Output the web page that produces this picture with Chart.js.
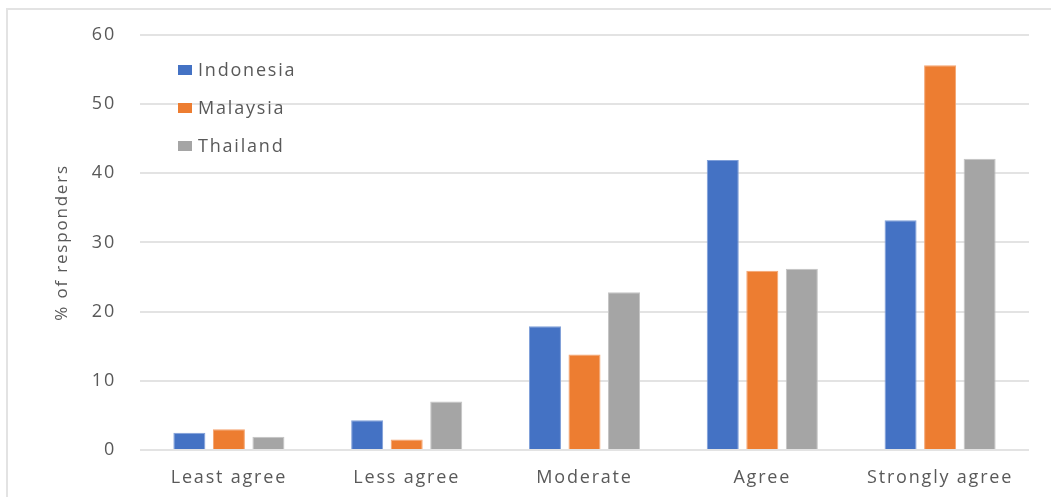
<!DOCTYPE html>
<html>
<head>
<meta charset="utf-8">
<script src="https://cdn.jsdelivr.net/npm/chart.js@4/dist/chart.umd.min.js"></script>
<style>
  html, body { margin: 0; padding: 0; background: #fff; overflow: hidden; }
  #wrap { position: relative; width: 1051px; height: 497px; }
  #frame { position: absolute; left: 6px; top: 8px; width: 1100px; height: 520px;
           border: 2px solid #e3e3e3; box-sizing: border-box; pointer-events: none; }
  canvas { position: absolute; left: 0; top: 0; }
</style>
</head>
<body>
<div id="wrap">
  <canvas id="chart" width="1051" height="497"></canvas>
  <div id="frame"></div>
</div>
<script>
const categories = ['Least agree', 'Less agree', 'Moderate', 'Agree', 'Strongly agree'];
const indonesia = [2.5, 4.3, 17.9, 41.9, 33.2];
const malaysia = [3.0, 1.5, 13.8, 25.9, 55.6];
const thailand = [1.9, 7.0, 22.8, 26.2, 42.1];
const yTicks = [0, 10, 20, 30, 40, 50, 60];

const textColor = '#595959';
const fontFamily = '"Open Sans", "Noto Sans", sans-serif';

// spaced-out lettering like the original
const spacing = {
  id: 'spacing',
  beforeUpdate(chart) { chart.ctx.letterSpacing = '1.8px'; },
  beforeDraw(chart) { chart.ctx.letterSpacing = '1.8px'; }
};

// legend drawn inside the plot, top left
const innerLegend = {
  id: 'innerLegend',
  afterDraw(chart) {
    const ctx = chart.ctx;
    ctx.save();
    ctx.letterSpacing = '1.8px';
    ctx.font = '18px ' + fontFamily;
    ctx.textBaseline = 'middle';
    chart.data.datasets.forEach((ds, i) => {
      const y = 70 + i * 38;
      ctx.fillStyle = ds.backgroundColor;
      ctx.fillRect(178, y - 5, 14, 10);
      ctx.fillStyle = textColor;
      ctx.fillText(ds.label, 198, y + 1);
    });
    ctx.restore();
  }
};

const ctx = document.getElementById('chart').getContext('2d');
new Chart(ctx, {
  type: 'bar',
  data: {
    labels: categories,
    datasets: [
      { label: 'Indonesia', data: indonesia, backgroundColor: '#4472C4', borderColor: '#7f9fd9', borderWidth: 1 },
      { label: 'Malaysia', data: malaysia, backgroundColor: '#ED7D31', borderColor: '#f4a470', borderWidth: 1 },
      { label: 'Thailand', data: thailand, backgroundColor: '#A5A5A5', borderColor: '#c4c4c4', borderWidth: 1 }
    ]
  },
  options: {
    responsive: false,
    animation: false,
    categoryPercentage: 0.667,
    barPercentage: 0.81,
    layout: { padding: { left: 0, right: 22, top: 34, bottom: 0 } },
    plugins: {
      legend: { display: false },
      tooltip: { enabled: false }
    },
    scales: {
      x: {
        grid: { display: false, drawTicks: false },
        border: { display: false },
        ticks: { color: textColor, font: { family: fontFamily, size: 18 }, padding: 17, maxRotation: 0 },
        afterFit(scale) { scale.height = 47; }
      },
      y: {
        min: 0,
        max: 60,
        afterBuildTicks(scale) { scale.ticks = yTicks.map(v => ({ value: v })); },
        grid: { color: '#e3e3e3', lineWidth: 2, drawTicks: false },
        border: { display: false },
        ticks: { color: textColor, font: { family: fontFamily, size: 18 }, padding: 24 },
        title: {
          display: true,
          text: '% of responders',
          color: textColor,
          font: { family: fontFamily, size: 17 },
          padding: { top: 52, bottom: 0 }
        },
        afterFit(scale) { scale.width = 140; }
      }
    }
  },
  plugins: [spacing, innerLegend]
});
</script>
</body>
</html>
